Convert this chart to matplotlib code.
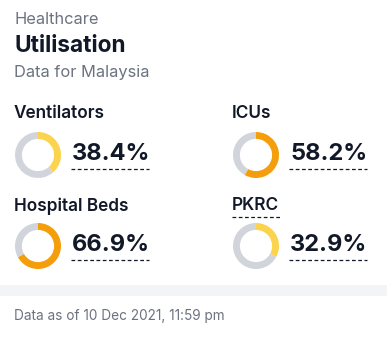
import matplotlib
matplotlib.use("Agg")
import matplotlib.pyplot as plt

# data
labels = ["Ventilators", "ICUs", "Hospital Beds", "PKRC"]
values = [38.4, 58.2, 66.9, 32.9]
label_underlined = [False, False, False, True]
title_small = "Healthcare"
title_main = "Utilisation"
subtitle = "Data for Malaysia"
footer = "Data as of 10 Dec 2021, 11:59 pm"

W, H = 387, 343
DARK = "#111827"
GREY_TXT = "#6b7280"
RING_BG = "#d1d5db"
YELLOW = "#fcd34d"
ORANGE = "#f59e0b"

plt.rcParams["font.family"] = ["Inter", "DejaVu Sans"]

fig = plt.figure(figsize=(W / 100, H / 100), dpi=100)
ax = fig.add_axes([0, 0, 1, 1])
ax.set_xlim(0, W)
ax.set_ylim(H, 0)
ax.axis("off")

ax.text(14, 19, title_small, fontsize=11.8, color=GREY_TXT, va="center")
ax.text(14, 46, title_main, fontsize=16.3, fontweight="bold", color=DARK, va="center")
ax.text(14, 73, subtitle, fontsize=11.8, color=GREY_TXT, va="center")

# card grid: (label x, label y, donut centre x, centre y)
cells = [(14, 113, 38, 155), (232, 113, 256, 155),
         (14, 206, 38, 246), (232, 206, 256, 246)]
R = 23

for lab, val, und, (lx, ly, cx, cy) in zip(labels, values, label_underlined, cells):
    ax.text(lx, ly, lab, fontsize=12.4, fontweight="semibold", color=DARK, va="center")
    if und:
        ax.plot([lx, lx + 48], [ly + 11, ly + 11], color=DARK, lw=0.9, ls=(0, (3, 2)))
    # donut
    dax = fig.add_axes([(cx - R) / W, 1 - (cy + R) / H, 2 * R / W, 2 * R / H])
    col = ORANGE if val >= 50 else YELLOW
    dax.pie([val, 100 - val], colors=[col, RING_BG], startangle=90, counterclock=False,
            wedgeprops=dict(width=0.3, linewidth=0))
    dax.set_xlim(-1, 1)
    dax.set_ylim(-1, 1)
    dax.set_aspect("equal")
    dax.axis("off")
    # value
    vx = cx + 34
    ax.text(vx, cy - 1, f"{val}%", fontsize=17, fontweight="bold", color=DARK, va="center")
    ax.plot([vx - 1, vx + 77], [cy + 14, cy + 14], color=DARK, lw=0.9, ls=(0, (3, 2)))

# footer band
ax.axhspan(285, 296, color="#f3f4f6", lw=0)
ax.text(14, 316, footer, fontsize=9.8, color=GREY_TXT, va="center")

fig.savefig("out.png", dpi=100, facecolor="white")
